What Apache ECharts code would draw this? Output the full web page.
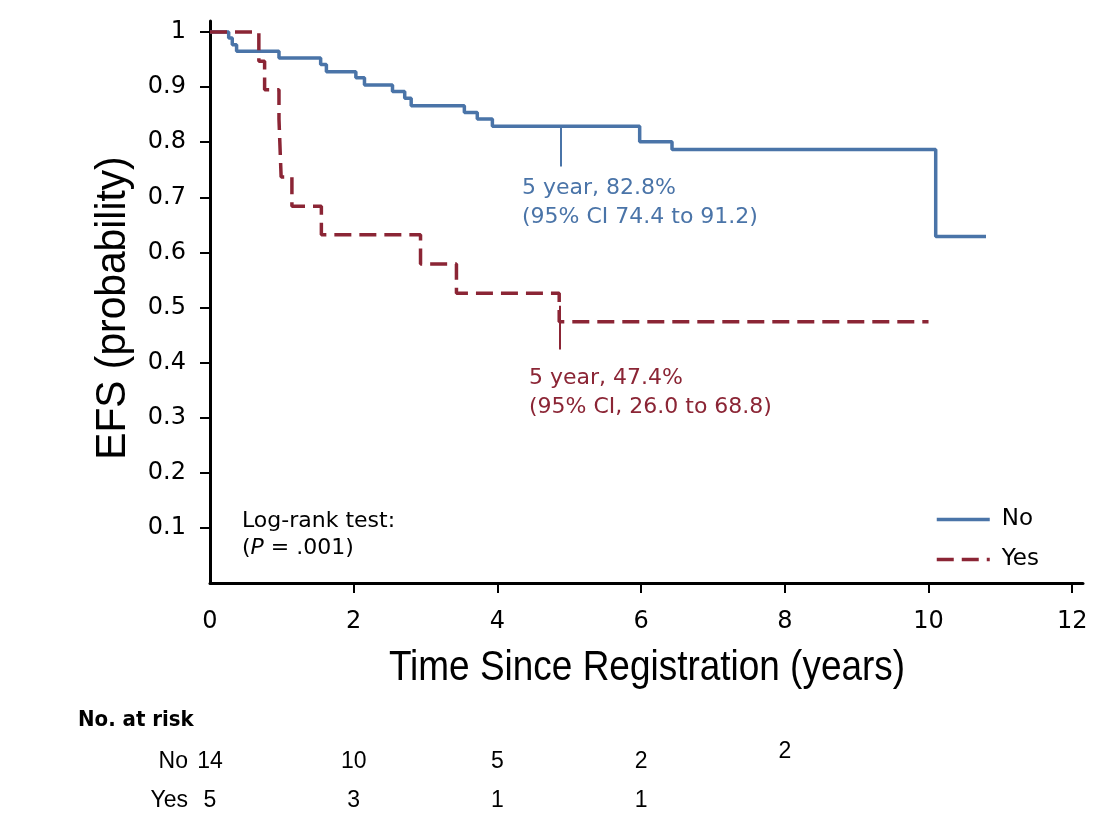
<!DOCTYPE html>
<html>
<head>
<meta charset="utf-8">
<script src="https://cdn.jsdelivr.net/npm/echarts@6/dist/echarts.min.js"></script>
<style>html,body{margin:0;padding:0;background:#fff}#chart{width:1102px;height:836px}</style>
</head>
<body>
<div id="chart"></div>
<script>
// ---- data ----
const timesNo = [0, 0.26, 0.31, 0.37, 0.96, 1.54, 1.62, 2.03, 2.15, 2.54, 2.71, 2.80, 3.54, 3.72, 3.93, 5.98, 6.43, 10.10, 10.80];
const survNo  = [1, 0.989, 0.977, 0.965, 0.953, 0.941, 0.928, 0.917, 0.904, 0.892, 0.880, 0.866, 0.854, 0.842, 0.829, 0.801, 0.787, 0.629, 0.629];
const timesYes = [0, 0.68, 0.76, 0.96, 0.975, 0.99, 1.14, 1.55, 2.93, 3.43, 4.86, 10.0];
const survYes  = [1, 0.947, 0.895, 0.842, 0.789, 0.737, 0.684, 0.632, 0.579, 0.526, 0.474, 0.474];
const fiveYearNo = [4.88, 0.829];
const fiveYearYes = [4.87, 0.474];
const groups = ['No', 'Yes'];
const xTickValues = [0, 2, 4, 6, 8, 10, 12];
const yTickValues = [0.1, 0.2, 0.3, 0.4, 0.5, 0.6, 0.7, 0.8, 0.9, 1];
const riskTimesNo = [0, 2, 4, 6, 8];
const riskNo = [14, 10, 5, 2, 2];
const riskTimesYes = [0, 2, 4, 6];
const riskYes = [5, 3, 1, 1];
const xTitle = 'Time Since Registration (years)';
const yTitle = 'EFS (probability)';

// ---- style ----
const BLUE = '#4a74a8';
const RED = '#8b2535';
const SANS = '"Liberation Sans", Arial, sans-serif';
const WIDE = '"DejaVu Sans", sans-serif';
const COND = '"DejaVu Sans Condensed", "DejaVu Sans", sans-serif';

const chart = echarts.init(document.getElementById('chart'), null, {renderer: 'canvas'});

const pairs = (xs, ys) => xs.map((x, i) => [x, ys[i]]);
const riskData = (ts, vals, g) => ts.map((t, i) => {
  const item = {value: [t, g, vals[i]]};
  if (g === 'No' && t === 8) item.label = {offset: [0, -10]};
  return item;
});
const riskLabel = {
  show: true, position: 'inside', formatter: p => String(p.value[2]),
  fontFamily: SANS, fontSize: 23, color: '#000', textBorderWidth: 0
};

const option = {
  animation: false,
  backgroundColor: '#fff',
  title: {
    text: 'No. at risk', left: 78, top: 709, padding: 0,
    textStyle: {fontFamily: COND, fontWeight: 'bold', fontSize: 22, color: '#000'}
  },
  legend: {
    data: groups, orient: 'vertical', left: 935, top: 508, padding: 0,
    itemWidth: 53, itemHeight: 14, itemGap: 17,
    itemStyle: {opacity: 0},
    lineStyle: {width: 3.5},
    textStyle: {fontFamily: WIDE, fontSize: 23, color: '#000', padding: [0, 0, 0, 7]}
  },
  grid: [
    {left: 210, right: 19, top: 21, bottom: 253, containLabel: false},
    {left: 210, right: 19, top: 742, height: 78, containLabel: false}
  ],
  xAxis: [
    {
      type: 'value', gridIndex: 0, min: 0, max: 12.15,
      axisLine: {lineStyle: {color: '#000', width: 3}},
      axisTick: {show: true, length: 10, lineStyle: {color: '#000', width: 2}, customValues: [2, 4, 6, 8, 10, 12]},
      axisLabel: {customValues: xTickValues, fontFamily: WIDE, fontSize: 24, color: '#000', margin: 27},
      splitLine: {show: false}
    },
    {type: 'value', gridIndex: 1, min: 0, max: 12.15, show: false}
  ],
  yAxis: [
    {
      type: 'value', gridIndex: 0, min: 0, max: 1.02,
      axisLine: {show: true, lineStyle: {color: '#000', width: 3}},
      axisTick: {show: true, length: 10, lineStyle: {color: '#000', width: 2}, customValues: yTickValues},
      axisLabel: {customValues: yTickValues, fontFamily: WIDE, fontSize: 24, color: '#000', margin: 24,
        formatter: v => String(Math.round(v * 10) / 10)},
      splitLine: {show: false}
    },
    {
      type: 'category', gridIndex: 1, data: ['Yes', 'No'],
      axisLine: {show: false}, axisTick: {show: false}, splitLine: {show: false},
      axisLabel: {fontFamily: SANS, fontSize: 23, color: '#000', margin: 22}
    }
  ],
  series: [
    {
      name: 'No', type: 'line', step: 'end', xAxisIndex: 0, yAxisIndex: 0,
      data: pairs(timesNo, survNo), symbol: 'none', showSymbol: false,
      lineStyle: {color: BLUE, width: 3.5}, itemStyle: {color: BLUE}, z: 2,
      markLine: {
        silent: true, symbol: 'none', label: {show: false}, animation: false,
        lineStyle: {color: BLUE, width: 2, type: 'solid'},
        data: [[{coord: [fiveYearNo[0], fiveYearNo[1]]}, {coord: [fiveYearNo[0], fiveYearNo[1] - 0.073]}]]
      }
    },
    {
      name: 'Yes', type: 'line', step: 'end', xAxisIndex: 0, yAxisIndex: 0,
      data: pairs(timesYes, survYes), symbol: 'none', showSymbol: false,
      lineStyle: {color: RED, width: 3.5, type: [17, 8]}, itemStyle: {color: RED}, z: 3,
      markLine: {
        silent: true, symbol: 'none', label: {show: false}, animation: false,
        lineStyle: {color: RED, width: 2, type: 'solid'},
        data: [[{coord: [fiveYearYes[0], fiveYearYes[1] + 0.029]}, {coord: [fiveYearYes[0], fiveYearYes[1] - 0.05]}]]
      }
    },
    {
      name: 'riskNo', type: 'scatter', xAxisIndex: 1, yAxisIndex: 1, symbolSize: 0, silent: true,
      itemStyle: {opacity: 1, color: '#000'},
      data: riskData(riskTimesNo, riskNo, 'No'), label: riskLabel
    },
    {
      name: 'riskYes', type: 'scatter', xAxisIndex: 1, yAxisIndex: 1, symbolSize: 0, silent: true,
      itemStyle: {opacity: 1, color: '#000'},
      data: riskData(riskTimesYes, riskYes, 'Yes'), label: riskLabel
    }
  ],
  graphic: [
    {type: 'text', x: 647, y: 668, scaleX: 0.88, silent: true,
      style: {text: xTitle, fill: '#000', font: '42px ' + SANS, align: 'center', verticalAlign: 'middle'}},
    {type: 'text', x: 113, y: 308, rotation: Math.PI / 2, scaleX: 0.97, silent: true,
      style: {text: yTitle, fill: '#000', font: '42px ' + SANS, align: 'center', verticalAlign: 'middle'}},
    {type: 'text', left: 522, top: 174, silent: true,
      style: {text: '5 year, 82.8%\n(95% CI 74.4 to 91.2)', fill: BLUE, font: '22px ' + WIDE, lineHeight: 29}},
    {type: 'text', left: 529, top: 364, silent: true,
      style: {text: '5 year, 47.4%\n(95% CI, 26.0 to 68.8)', fill: RED, font: '22px ' + WIDE, lineHeight: 29}},
    {type: 'text', left: 242, top: 508, silent: true,
      style: {
        text: 'Log-rank test:\n({i|P} = .001)', fill: '#000', font: '22px ' + WIDE, lineHeight: 27,
        rich: {i: {fontStyle: 'italic', fontFamily: WIDE, fontSize: 22, fill: '#000', lineHeight: 27}}
      }}
  ]
};
chart.setOption(option);
</script>
</body>
</html>
